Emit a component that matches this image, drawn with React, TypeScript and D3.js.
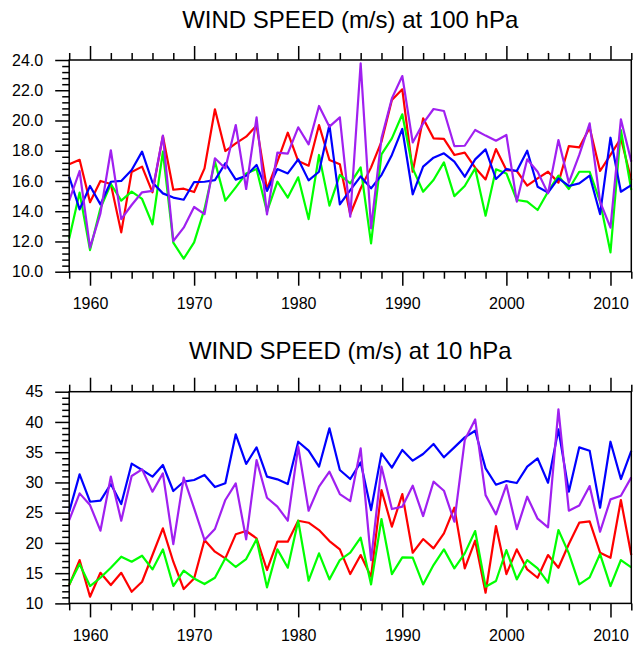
import React, { useEffect, useRef } from "react";
import * as d3 from "d3";

// years on the x axis
const years = d3.range(1958, 2013);

// 100 hPa series
const red100 = [17.1, 17.4, 14.6, 16.0, 15.8, 12.6, 16.6, 16.95, 15.25, 18.97, 15.42, 15.49, 15.27, 16.83, 20.74, 17.98, 18.49, 18.93, 19.66, 15.45, 17.28, 19.19, 17.32, 17.01, 19.7, 17.39, 17.1, 13.8, 15.5, 16.9, 18.6, 21.35, 22.06, 16.61, 20.14, 18.82, 18.78, 17.72, 17.87, 16.88, 16.1, 18.11, 16.72, 16.66, 15.69, 16.17, 16.61, 15.89, 18.31, 18.22, 19.52, 16.66, 17.72, 18.82, 16.06];
const green100 = [12.2, 15.23, 11.43, 14.19, 15.8, 14.7, 15.29, 14.81, 13.13, 17.94, 11.92, 10.86, 11.94, 14.15, 17.28, 14.7, 15.58, 16.5, 16.79, 13.97, 15.95, 14.9, 16.24, 13.48, 17.72, 14.37, 16.4, 15.84, 16.9, 11.87, 17.76, 18.82, 20.41, 16.83, 15.29, 16.06, 17.23, 15.0, 15.67, 16.83, 13.7, 16.77, 16.5, 14.74, 14.63, 14.08, 15.29, 16.35, 15.47, 16.61, 16.61, 14.63, 11.28, 19.37, 15.4];
const blue100 = [16.28, 14.12, 15.67, 14.45, 15.95, 16.0, 16.73, 17.94, 15.9, 15.18, 14.9, 14.76, 15.93, 15.95, 16.06, 17.17, 16.09, 16.35, 17.06, 15.34, 16.79, 16.5, 17.43, 16.04, 16.61, 19.7, 14.45, 15.4, 16.3, 15.51, 16.39, 17.72, 19.44, 15.12, 16.95, 17.54, 17.83, 17.28, 16.28, 17.43, 18.09, 16.13, 16.79, 16.66, 18.0, 15.62, 15.23, 16.17, 15.67, 15.84, 16.35, 13.81, 18.86, 15.29, 15.73];
const purple100 = [14.7, 16.66, 11.59, 13.86, 18.03, 13.48, 14.41, 15.25, 15.34, 19.0, 12.03, 12.91, 14.28, 13.81, 17.5, 16.83, 19.7, 15.47, 20.21, 13.79, 17.87, 17.81, 19.55, 18.42, 20.96, 19.59, 20.21, 13.64, 23.78, 12.87, 18.82, 21.46, 22.94, 18.55, 19.81, 20.76, 20.63, 18.31, 18.33, 19.37, 19.0, 18.66, 19.04, 14.63, 17.43, 16.61, 15.18, 18.71, 15.89, 17.72, 19.81, 14.63, 12.91, 20.08, 17.28];

// 10 hPa series
const red10 = [13.03, 17.16, 11.1, 15.06, 13.03, 15.06, 11.93, 13.58, 18.0, 22.4, 16.89, 12.37, 14.13, 20.48, 18.55, 17.45, 21.42, 21.97, 20.76, 15.52, 20.2, 20.2, 23.67, 23.34, 22.13, 20.31, 18.93, 14.85, 17.99, 14.41, 28.74, 22.68, 28.08, 18.38, 20.64, 19.1, 21.58, 25.82, 15.79, 20.37, 11.76, 22.79, 14.85, 18.93, 15.62, 14.24, 17.99, 15.9, 19.82, 23.34, 23.56, 18.38, 17.55, 27.09, 17.99];
const green10 = [13.14, 16.5, 12.87, 14.24, 15.9, 17.72, 16.89, 17.88, 15.62, 18.93, 12.87, 15.4, 14.13, 13.2, 14.24, 17.45, 16.02, 17.34, 20.59, 12.65, 18.93, 15.9, 23.67, 13.75, 18.27, 13.97, 17.17, 18.38, 20.86, 13.14, 23.95, 14.85, 17.61, 17.56, 13.14, 16.34, 18.93, 15.79, 18.27, 21.96, 12.76, 13.7, 18.82, 13.97, 17.17, 15.79, 13.42, 22.13, 18.27, 13.14, 14.3, 18.16, 12.87, 17.17, 15.95];
const blue10 = [25.16, 31.33, 26.81, 26.98, 29.73, 26.43, 33.1, 32.05, 30.95, 32.88, 28.58, 30.12, 30.4, 31.23, 29.24, 29.85, 37.95, 33.05, 35.8, 30.95, 30.51, 29.73, 36.73, 35.25, 32.6, 38.94, 32.05, 30.56, 33.32, 25.43, 34.81, 32.44, 35.36, 33.6, 34.7, 36.35, 34.15, 35.8, 37.45, 38.55, 32.33, 29.62, 30.23, 29.9, 32.6, 33.98, 29.95, 38.77, 28.47, 35.8, 35.25, 25.82, 36.73, 30.56, 35.2];
const purple10 = [23.78, 28.19, 26.26, 22.02, 30.95, 23.67, 31.06, 32.16, 28.47, 31.5, 19.8, 30.79, 25.7, 20.48, 22.3, 27.1, 29.85, 20.6, 33.7, 27.47, 25.99, 23.67, 35.91, 25.32, 29.3, 31.78, 28.08, 26.92, 35.63, 17.17, 32.6, 25.6, 25.99, 29.46, 24.44, 30.12, 28.63, 23.5, 37.0, 40.42, 27.9, 24.72, 29.57, 22.29, 27.64, 24.0, 22.57, 42.08, 25.32, 26.2, 29.4, 21.85, 27.2, 27.8, 30.84];

const colors = ["#ff0000", "#00ff00", "#0000ff", "#a020f0"];

const panels = [
  {
    title: "WIND SPEED (m/s) at 100 hPa",
    domain: [10, 24],
    majorStep: 2,
    minorStep: 0.4,
    format: d3.format(".1f"),
    series: [red100, green100, blue100, purple100],
    top: 60,
  },
  {
    title: "WIND SPEED (m/s) at 10 hPa",
    domain: [10, 45],
    majorStep: 5,
    minorStep: 1,
    format: d3.format("d"),
    series: [red10, green10, blue10, purple10],
    top: 391.7,
  },
];

const W = 634;
const H = 649;
const left = 69.2;
const right = 631.3;
const ph = 211.7;
const font = "'Liberation Sans', Arial, Helvetica, sans-serif";

const App = () => {
  const svgRef = useRef(null);

  useEffect(() => {
    const svg = d3.select(svgRef.current);
    svg.selectAll("*").remove();

    const x = d3.scaleLinear().domain([1958, 2012]).range([left, right]);
    const xMajor = d3.range(1960, 2011, 10);
    const xMinor = d3.range(1958, 2013, 2).filter((v) => v % 10 !== 0);

    panels.forEach((p) => {
      const g = svg.append("g");
      const y = d3.scaleLinear().domain(p.domain).range([p.top + ph, p.top]);
      const yMajor = d3.range(p.domain[0], p.domain[1] + 0.001, p.majorStep);
      const yMinor = d3
        .range(p.domain[0], p.domain[1] + 0.001, p.minorStep)
        .filter((v) => yMajor.every((m) => Math.abs(m - v) > 0.01));

      // title
      g.append("text")
        .attr("x", (left + right) / 2)
        .attr("y", p.top - 32.4)
        .attr("text-anchor", "middle")
        .style("font-family", font)
        .style("font-size", "24px")
        .text(p.title);

      // lines
      const line = d3
        .line<number>()
        .x((d, i) => x(years[i]))
        .y((d) => y(d));
      p.series.forEach((s, i) => {
        g.append("path")
          .attr("d", line(s))
          .attr("fill", "none")
          .attr("stroke", colors[i])
          .attr("stroke-width", 2.2)
          .attr("stroke-linejoin", "round");
      });

      // frame
      g.append("rect")
        .attr("x", left)
        .attr("y", p.top)
        .attr("width", right - left)
        .attr("height", ph)
        .attr("fill", "none")
        .attr("stroke", "#000")
        .attr("stroke-width", 1.5);

      const style = (a) => {
        a.select(".domain").remove();
        a.selectAll("line").attr("stroke", "#000").attr("stroke-width", 1.5);
        a.selectAll("text")
          .style("font-family", font)
          .style("font-size", "16px")
          .attr("fill", "#000");
      };

      // x axes, bottom and top
      g.append("g")
        .attr("transform", `translate(0,${p.top + ph})`)
        .call(d3.axisBottom(x).tickValues(xMajor).tickFormat(d3.format("d")).tickSize(14).tickPadding(12))
        .call(style);
      g.append("g")
        .attr("transform", `translate(0,${p.top + ph})`)
        .call(d3.axisBottom(x).tickValues(xMinor).tickFormat(() => "").tickSize(7))
        .call(style);
      g.append("g")
        .attr("transform", `translate(0,${p.top})`)
        .call(d3.axisTop(x).tickValues(xMajor).tickFormat(() => "").tickSize(14))
        .call(style);
      g.append("g")
        .attr("transform", `translate(0,${p.top})`)
        .call(d3.axisTop(x).tickValues(xMinor).tickFormat(() => "").tickSize(7))
        .call(style);

      // y axis
      g.append("g")
        .attr("transform", `translate(${left},0)`)
        .call(d3.axisLeft(y).tickValues(yMajor).tickFormat(p.format).tickSize(14).tickPadding(12))
        .call(style);
      g.append("g")
        .attr("transform", `translate(${left},0)`)
        .call(d3.axisLeft(y).tickValues(yMinor).tickFormat(() => "").tickSize(7))
        .call(style);
    });
  }, []);

  return (
    <svg
      ref={svgRef}
      width={W}
      height={H}
      style={{ position: "absolute", left: 0, top: 0, background: "#fff" }}
    ></svg>
  );
};

export default App;
